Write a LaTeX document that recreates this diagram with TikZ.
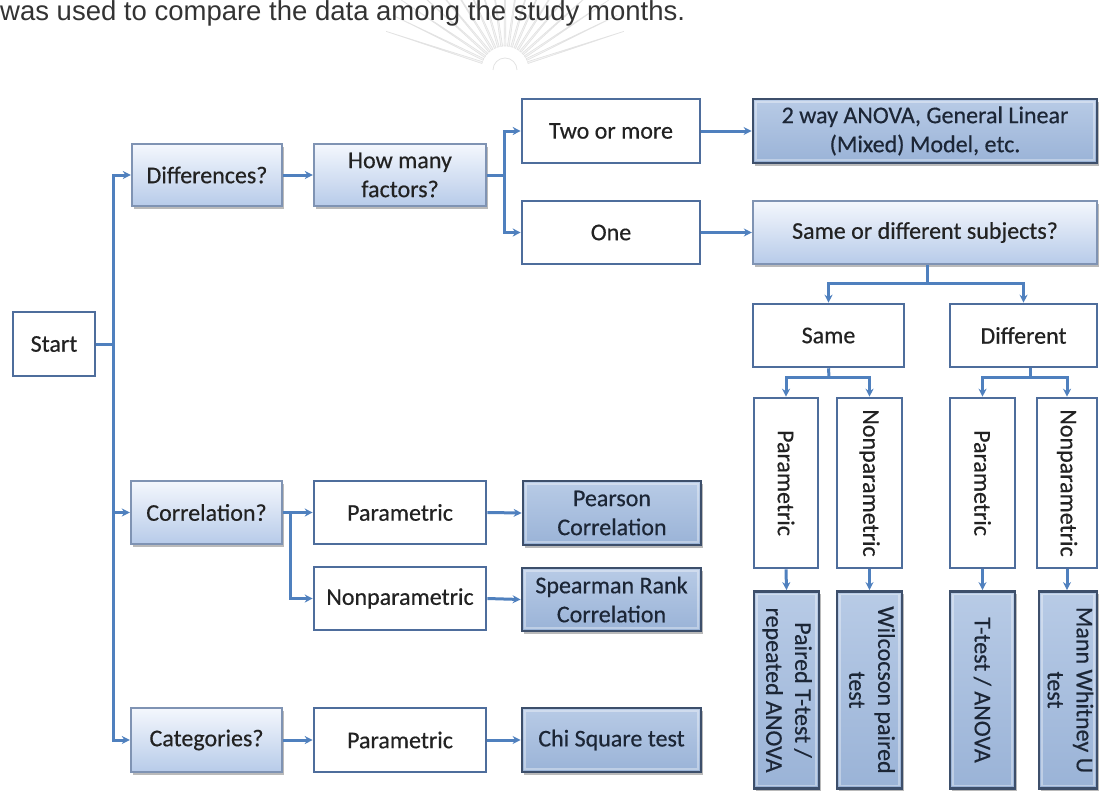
\documentclass[tikz,border=0pt]{standalone}
\usepackage{fontspec}
\setmainfont{Carlito}[FakeBold=0.45]
\newfontfamily\topfont{Liberation Sans}
\usepackage{graphicx}
\usetikzlibrary{arrows.meta,shadows,calc}

\definecolor{connblue}{HTML}{4F80BE}
\definecolor{plainedge}{HTML}{4E6D9C}
\definecolor{lightedge}{HTML}{7F93B3}
\definecolor{lighttop}{HTML}{F4F7FD}
\definecolor{lightbot}{HTML}{B7CBE9}
\definecolor{darkedge}{HTML}{3D4F6B}
\definecolor{darktop}{HTML}{B8CBE6}
\definecolor{darkbot}{HTML}{9AB3D7}
\definecolor{txt}{HTML}{222222}
\definecolor{dtxt}{HTML}{1C2636}

\begin{document}
\begin{tikzpicture}[x=1pt,y=-1pt,
  box/.style={rectangle, inner sep=0pt, align=center, text=txt, font=\fontsize{24}{29}\selectfont},
  sz/.style 2 args={minimum width=#1pt, minimum height=#2pt},
  plainbox/.style={box, draw=plainedge, line width=2.6pt, fill=white},
  lightbox/.style={box, draw=lightedge, line width=2.4pt, top color=lighttop, bottom color=lightbot,
    drop shadow={shadow xshift=1.5pt, shadow yshift=-2.5pt, fill=black!60, opacity=.45}},
  darkbox/.style={box, draw=darkedge, line width=2.8pt, top color=darktop, bottom color=darkbot, text=dtxt,
    drop shadow={shadow xshift=1.5pt, shadow yshift=-2.5pt, fill=black!60, opacity=.45},
    path picture={\draw[white, opacity=.35, line width=1.2pt]
      ([shift={(3pt,-3pt)}]path picture bounding box.north west) rectangle
      ([shift={(-3pt,3pt)}]path picture bounding box.south east);}},
  conn/.style={draw=connblue, line width=3pt, -{Stealth[length=8pt,width=8pt]}},
  link/.style={draw=connblue, line width=3pt},
]
\useasboundingbox (0,0) rectangle (1100,792);
\clip (0,0) rectangle (1100,792);

% faint watermark
\coordinate (wm) at (505,70);
\foreach \a in {18,26,...,162} {
  \draw[gray!22, fill=gray!6, line width=0.7pt]
    ($(wm)+(\a-2.2:24pt)$) -- ($(wm)+(\a:125pt)$) -- ($(wm)+(\a+2.2:24pt)$) -- cycle;
}
\draw[gray!22, line width=0.8pt] ($(wm)+(12pt,0pt)$) arc[start angle=0, end angle=180, radius=12pt];

% top text line
\node[anchor=base west, inner sep=0pt, text=black!80, font=\topfont\fontsize{27.5}{30}\selectfont]
  (toptext) at (0,21) {was used to compare the data among the study months.};

% nodes
\node[plainbox, sz={82}{64}] (start) at (54,344) {Start};

\node[lightbox, sz={150}{62}] (diff) at (207,175) {Differences?};
\node[lightbox, sz={172}{62}] (howmany) at (400,175) {How many\\factors?};
\node[plainbox, sz={178}{64}] (two) at (611,131) {Two or more};
\node[darkbox, sz={344}{64}] (way2) at (925,131) {2 way ANOVA, General Linear\\(Mixed) Model, etc.};
\node[plainbox, sz={178}{63}] (one) at (611,232.5) {One};
\node[lightbox, sz={344}{63}] (sod) at (925,232.5) {Same or different subjects?};

\node[plainbox, sz={151}{63}] (same) at (828.5,335.5) {Same};
\node[plainbox, sz={147}{63}] (differ) at (1023.5,335.5) {Different};

\node[plainbox, sz={64}{170}] (p1) at (786,483) {\rotatebox{-90}{Parametric}};
\node[plainbox, sz={65}{170}] (n1) at (869.5,483) {\rotatebox{-90}{Nonparametric}};
\node[plainbox, sz={65}{170}] (p2) at (982.5,483) {\rotatebox{-90}{Parametric}};
\node[plainbox, sz={60}{170}] (n2) at (1067,483) {\rotatebox{-90}{Nonparametric}};

\node[darkbox, sz={65}{197}] (b1) at (786.5,690) {\rotatebox{-90}{\begin{tabular}{@{}c@{}}Paired T-test /\\repeated ANOVA\end{tabular}}};
\node[darkbox, sz={65}{197}] (b2) at (869.5,690) {\rotatebox{-90}{\begin{tabular}{@{}c@{}}Wilcocson paired\\test\end{tabular}}};
\node[darkbox, sz={65}{197}] (b3) at (982.5,690) {\rotatebox{-90}{T-test / ANOVA}};
\node[darkbox, sz={57}{197}] (b4) at (1068,690) {\rotatebox{-90}{\begin{tabular}{@{}c@{}}Mann Whitney U\\test\end{tabular}}};

\node[lightbox, sz={151}{63}] (corr) at (206.5,512.5) {Correlation?};
\node[plainbox, sz={172}{63}] (cp) at (400,512.5) {Parametric};
\node[darkbox, sz={178}{64}] (pear) at (612,513) {Pearson\\Correlation};
\node[plainbox, sz={172}{63}] (cn) at (400,598.5) {Nonparametric};
\node[darkbox, sz={179}{63}] (spear) at (611.5,599.5) {Spearman Rank\\Correlation};

\node[lightbox, sz={151}{64}] (cat) at (206.5,740) {Categories?};
\node[plainbox, sz={172}{64}] (catp) at (400,740) {Parametric};
\node[darkbox, sz={179}{64}] (chi) at (611.5,740) {Chi Square test};

% connectors
\coordinate (tr) at (113,344);
\draw[link] (start.east) -- (tr);
\draw[conn] (tr) |- (diff.west);
\draw[conn] (tr) |- (corr.west);
\draw[conn] (tr) |- (cat.west);

\draw[conn] (diff.east) -- (howmany.west);
\coordinate (hm) at (504,175);
\draw[link] (howmany.east) -- (hm);
\draw[conn] (hm) |- (two.west);
\draw[conn] (hm) |- (one.west);
\draw[conn] (two.east) -- (way2.west);
\draw[conn] (one.east) -- (sod.west);

\coordinate (sd) at (927,283);
\draw[link] (sod.south -| sd) -- (sd);
\draw[conn] (sd) -| (same.north);
\draw[conn] (sd) -| (differ.north);

\coordinate (sa) at (829,377);
\draw[link] (same.south) -- (sa);
\draw[conn] (sa) -| (p1.north);
\draw[conn] (sa) -| (n1.north);
\coordinate (df) at (1030,377);
\draw[link] (differ.south -| df) -- (df);
\draw[conn] (df) -| (p2.north);
\draw[conn] (df) -| (n2.north);

\draw[conn] (p1.south) -- (b1.north);
\draw[conn] (n1.south) -- (b2.north);
\draw[conn] (p2.south) -- (b3.north);
\draw[conn] (n2.south) -- (n2.south |- b4.north);

\coordinate (cb) at (290,512.5);
\draw[conn] (corr.east) -- (cp.west);
\draw[conn] (cb) |- (cn.west);
\draw[conn] (cp.east) -- (pear.west);
\draw[conn] (cn.east) -- (spear.west);
\draw[conn] (cat.east) -- (catp.west);
\draw[conn] (catp.east) -- (chi.west);
\end{tikzpicture}
\end{document}
